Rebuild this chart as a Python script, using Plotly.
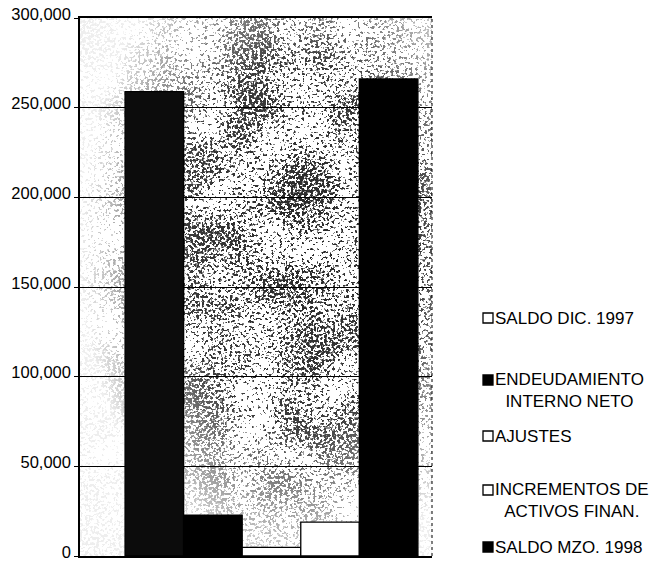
import base64
import plotly.graph_objects as go

# Series (one bar per movement of the balance)
series_names = [
    "SALDO DIC. 1997",
    "ENDEUDAMIENTO INTERNO NETO",
    "AJUSTES",
    "INCREMENTOS DE ACTIVOS FINAN.",
    "SALDO MZO. 1998",
]
legend_labels = [
    "SALDO DIC. 1997",
    "ENDEUDAMIENTO<br>INTERNO NETO",
    "AJUSTES",
    "INCREMENTOS DE<br>ACTIVOS FINAN.",
    "SALDO MZO. 1998",
]
values = [259000, 22800, 4800, 18900, 266000]
category = ["1998"]

y_tick_values = [0, 50000, 100000, 150000, 200000, 250000, 300000]
y_tick_labels = ["0", "50,000", "100,000", "150,000", "200,000", "250,000", "300,000"]

# Styling
bar_fills = ["#0c0c0c", "#000000", "#ffffff", "#ffffff", "#000000"]
swatch_fills = ["#ffffff", "#000000", "#ffffff", "#ffffff", "#000000"]
FONT = "Liberation Sans, Arial, sans-serif"

W, H = 660, 563
ML, MR, MT, MB = 80, 228, 18, 7
PW, PH = W - ML - MR, H - MT - MB


def px_x(px):
    return (px - ML) / PW


def px_y(py):
    return (H - MB - py) / PH


# Grainy toner texture behind the bars: fine grain, lightly modulated by a coarse cloud
svg = f"""<svg xmlns="http://www.w3.org/2000/svg" width="{PW}" height="{PH}" viewBox="0 0 {PW} {PH}">
<defs>
<filter id="g" x="0" y="0" width="100%" height="100%" color-interpolation-filters="sRGB">
<feTurbulence type="fractalNoise" baseFrequency="0.36" numOctaves="2" seed="11" result="hi"/>
<feColorMatrix in="hi" type="matrix" values="0 0 0 0 0  0 0 0 0 0  0 0 0 0 0  1 0 0 0 0" result="a1"/>
<feTurbulence type="fractalNoise" baseFrequency="0.02" numOctaves="2" seed="4" result="lo"/>
<feColorMatrix in="lo" type="matrix" values="0 0 0 0 0  0 0 0 0 0  0 0 0 0 0  1 0 0 0 0" result="a2"/>
<feComposite in="a1" in2="a2" operator="arithmetic" k1="0" k2="1" k3="0.4" k4="-0.2"/>
<feComponentTransfer><feFuncA type="discrete" tableValues="0 0 0 0 0 0 0 0 0 0 0 0.6 1 1 1 1 1 1 1 1"/></feComponentTransfer>
</filter>
<radialGradient id="r" cx="0.62" cy="0.42" r="0.62">
<stop offset="0" stop-color="#fff" stop-opacity="1"/>
<stop offset="0.55" stop-color="#fff" stop-opacity="0.9"/>
<stop offset="1" stop-color="#fff" stop-opacity="0.08"/>
</radialGradient>
<mask id="m"><rect width="{PW}" height="{PH}" fill="url(#r)"/></mask>
</defs>
<rect width="{PW}" height="{PH}" fill="#000" filter="url(#g)" mask="url(#m)"/>
</svg>"""
texture = "data:image/svg+xml;base64," + base64.b64encode(svg.encode()).decode()

fig = go.Figure()
for name, val, fill in zip(series_names, values, bar_fills):
    fig.add_trace(go.Bar(x=category, y=[val], name=name,
                         marker=dict(color=fill, line=dict(color="#000000", width=1.3)),
                         showlegend=False))

# Legend at the right: swatch + label per series
rows_px = [318, 380, 436, 490, 547]     # first-line centre of each entry
annotations = []
shapes = []
for label, fill, row in zip(legend_labels, swatch_fills, rows_px):
    shapes.append(dict(type="rect", xref="paper", yref="paper",
                       x0=px_x(483), x1=px_x(493), y0=px_y(row + 5), y1=px_y(row - 5),
                       fillcolor=fill, line=dict(color="#000000", width=1.3)))
    two_lines = "<br>" in label
    annotations.append(dict(text=label, xref="paper", yref="paper",
                            x=px_x(494), y=px_y(row - 11 if two_lines else row),
                            xanchor="left", yanchor="top" if two_lines else "middle",
                            align="center", showarrow=False, borderpad=0,
                            font=dict(family=FONT, size=17, color="#000")))

# Dotted right edge of the plot frame
shapes.append(dict(type="line", xref="paper", yref="paper", x0=1, x1=1, y0=0, y1=1,
                   line=dict(color="#000000", width=1, dash="dot")))

fig.update_layout(
    width=W, height=H,
    margin=dict(l=ML, r=MR, t=MT, b=MB, autoexpand=False),
    paper_bgcolor="#ffffff",
    plot_bgcolor="#ffffff",
    barmode="group",
    bargap=0.168,
    bargroupgap=0,
    font=dict(family=FONT, size=17, color="#000000"),
    annotations=annotations,
    shapes=shapes,
    images=[dict(source=texture, xref="paper", yref="paper", x=0, y=1,
                 sizex=1, sizey=1, xanchor="left", yanchor="top",
                 sizing="stretch", layer="below", opacity=0.85)],
    xaxis=dict(type="category", range=[-0.544, 0.456], showticklabels=False,
               ticks="", showgrid=False, showline=True, linecolor="#000000",
               linewidth=1.5, mirror=True, fixedrange=True, automargin=False),
    yaxis=dict(range=[0, 300000], tickvals=y_tick_values, ticktext=y_tick_labels,
               showgrid=True, gridcolor="#000000", gridwidth=1,
               ticks="outside", ticklen=4, tickcolor="#000000",
               showline=True, linecolor="#000000", linewidth=1.5,
               zeroline=False, ticklabelshift=-4, ticklabeloverflow="allow",
               automargin=False,
               tickfont=dict(family=FONT, size=16.5, color="#000000"),
               fixedrange=True),
)

fig.write_html("out.html")
